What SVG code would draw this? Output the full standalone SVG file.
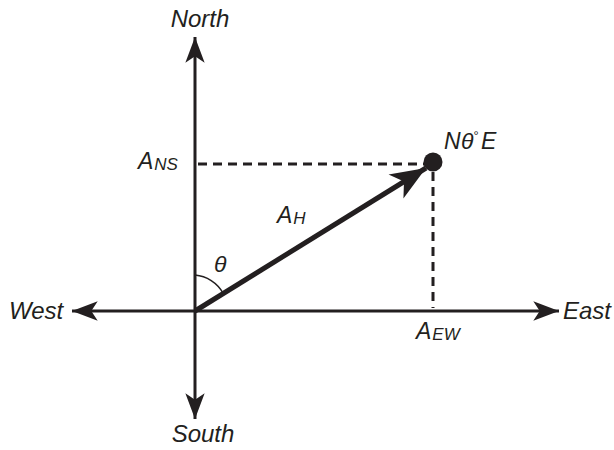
<svg xmlns="http://www.w3.org/2000/svg" width="614" height="450" viewBox="0 0 614 450">
<defs>
<style>
text{font-family:"Liberation Sans",Arial,sans-serif;font-style:italic;fill:#231f20;font-size:23px}
.big{font-size:24px}
.sub{font-size:17px}
.axis{stroke:#231f20;stroke-width:3;fill:none}
.dash{stroke:#231f20;stroke-width:3;stroke-dasharray:9,6;fill:none}
</style>
<marker id="ah" markerUnits="userSpaceOnUse" markerWidth="30" markerHeight="30" viewBox="-26 -10 28 20" refX="0" refY="0" orient="auto">
<path d="M0,0 L-24,-9 L-18,0 L-24,9 Z" fill="#231f20"/>
</marker>
<marker id="ahv" markerUnits="userSpaceOnUse" markerWidth="40" markerHeight="40" viewBox="-32 -14 34 28" refX="0" refY="0" orient="auto">
<path d="M0,0 L-30,-12 L-22,0 L-30,12 Z" fill="#231f20"/>
</marker>
</defs>
<g id="connectors">
<line class="axis" x1="195" y1="311" x2="195" y2="37" marker-end="url(#ah)"/>
<line class="axis" x1="195" y1="311" x2="195" y2="419" marker-end="url(#ah)"/>
<line class="axis" x1="195" y1="311" x2="72" y2="311" marker-end="url(#ah)"/>
<line class="axis" x1="195" y1="311" x2="559" y2="311" marker-end="url(#ah)"/>
<line class="dash" x1="198" y1="164" x2="428" y2="164"/>
<line class="dash" x1="433" y1="172" x2="433" y2="308"/>
<line x1="195" y1="311" x2="426" y2="168" stroke="#231f20" stroke-width="5" marker-end="url(#ahv)"/>
<path d="M195,275 A36,36 0 0 1 223,293" fill="none" stroke="#231f20" stroke-width="1.5"/>
</g>
<g id="point"><circle cx="433" cy="162" r="9.5" fill="#231f20"/></g>
<g id="north"><text class="big" x="200" y="27" text-anchor="middle">North</text></g>
<g id="south"><text class="big" x="203" y="442" text-anchor="middle">South</text></g>
<g id="west"><text class="big" x="9" y="319">West</text></g>
<g id="east"><text class="big" x="563" y="319">East</text></g>
<g id="ans"><text x="138" y="169">A<tspan class="sub" dx="1" dy="1">NS</tspan></text></g>
<g id="ah-label"><text x="277" y="223">A<tspan class="sub" dx="1" dy="1">H</tspan></text></g>
<g id="aew"><text x="416" y="339">A<tspan class="sub" dx="1" dy="1">EW</tspan></text></g>
<g id="theta"><text x="214" y="272">θ</text></g>
<g id="dir"><text y="149"><tspan x="444">N</tspan><tspan x="461">θ</tspan><tspan x="473" dy="-9" font-size="13">°</tspan><tspan x="481" dy="9">E</tspan></text></g>
</svg>
